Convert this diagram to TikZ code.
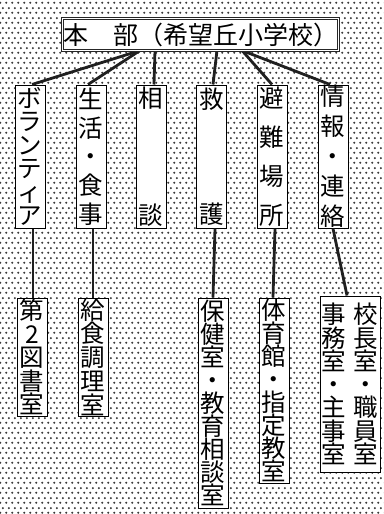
\documentclass[tikz,border=0pt]{standalone}
\usepackage{fontspec}
\setmainfont{Noto Sans CJK JP}
\usetikzlibrary{patterns,calc}
\pgfdeclarepatternformonly{halftone}{\pgfpointorigin}{\pgfpoint{6pt}{10pt}}{\pgfpoint{6pt}{10pt}}{%
  \pgfpathcircle{\pgfpoint{1.5pt}{2.5pt}}{1.25pt}%
  \pgfpathcircle{\pgfpoint{4.5pt}{7.5pt}}{1.25pt}%
  \pgfusepath{fill}}
\definecolor{dotgray}{HTML}{383838}
\definecolor{linegray}{HTML}{202020}
\tikzset{
  vbox/.style={draw=black, line width=1pt, fill=white, minimum width=30pt,
    inner sep=0pt, align=center, text width=30pt},
  topbox/.style={draw=black!85, line width=0.8pt, double=white, double distance=1.2pt,
    fill=white, minimum width=276pt, minimum height=32pt, inner sep=0pt,
    font=\fontsize{25}{25}\selectfont},
  link/.style={draw=linegray, line width=2.8pt},
}
\begin{document}
\begin{tikzpicture}[x=1pt,y=-1pt]
\useasboundingbox (0,0) rectangle (383,514);
\fill[white] (0,0) rectangle (383,514);
\fill[pattern=halftone, pattern color=dotgray] (0,0) rectangle (383,514);

% hubs on the top box (bottom edge at y = 50.5)
\coordinate (h1) at (140,50.5);
\coordinate (h2) at (155,50.5);
\coordinate (h3) at (217,50.5);
\coordinate (h4) at (242,50.5);

% level 2
\node[vbox, minimum height=143pt, font=\fontsize{24.5}{23.4}\selectfont] (vol) at (30,156.5) {ボ\\ラ\\ン\\テ\\ィ\\ア};
\node[vbox, minimum height=143pt, font=\fontsize{24.5}{28.75}\selectfont] (sei) at (91,156.5) {生\\活\\・\\食\\事};
\node[vbox, minimum height=143pt, font=\fontsize{24.5}{24}\selectfont] (sou) at (151,156.5) {相\\[93pt]談};
\node[vbox, minimum height=143pt, font=\fontsize{24.5}{24}\selectfont] (kyu) at (211.5,156.5) {救\\[91pt]護};
\node[vbox, minimum height=143pt, font=\fontsize{24.5}{39}\selectfont] (hin) at (272,156.5) {避\\難\\場\\所};
\node[vbox, minimum height=143pt, font=\fontsize{24.5}{30}\selectfont] (jou) at (333,156.5) {情\\報\\・\\連\\絡};

% level 3
\node[vbox, minimum height=118pt, font=\fontsize{24.5}{23.5}\selectfont] (lib) at (32,357) {第\\2\\図\\書\\室};
\node[vbox, minimum height=118pt, font=\fontsize{24.5}{23.75}\selectfont] (kit) at (93,357) {給\\食\\調\\理\\室};
\node[vbox, minimum height=210pt, font=\fontsize{24.5}{23}\selectfont] (hok) at (213,403) {保\\健\\室\\・\\教\\育\\相\\談\\室};
\node[vbox, minimum height=185pt, font=\fontsize{24.5}{23}\selectfont] (tai) at (274,390.5) {体\\育\\館\\・\\指\\定\\教\\室};
\node[vbox, minimum width=60pt, text width=60pt, minimum height=176pt, font=\fontsize{24.5}{23.3}\selectfont] (kou) at (350,384)
  {事\hspace{8pt}校\\務\hspace{8pt}長\\室\hspace{8pt}室\\・\hspace{8pt}・\\主\hspace{8pt}職\\事\hspace{8pt}員\\室\hspace{8pt}室};

% connectors top -> level 2
\draw[link] (h1) -- ([xshift=2pt]vol.north);
\draw[link] (h1) -- ([xshift=-3pt]sei.north);
\draw[link] (h2) -- ([xshift=3pt]sou.north);
\draw[link] (h3) -- ([xshift=1.5pt]kyu.north);
\draw[link] (h4) -- (hin.north);
\draw[link] (h4) -- ([xshift=-3pt]jou.north);

% connectors level 2 -> level 3
\draw[link] ([xshift=3pt]vol.south) -- ([xshift=1pt]lib.north);
\draw[link] ([xshift=2pt]sei.south) -- (kit.north);
\draw[link] ([xshift=3.5pt]kyu.south) -- (hok.north);
\draw[link] ([xshift=3pt]hin.south) -- ([xshift=-1pt]tai.north);
\draw[link] (jou.south) -- ([xshift=-3pt]kou.north);

% top node drawn last so the connectors start under its frame
\node[topbox] (hq) at (200.5,34.5) {本　部（希望丘小学校）};
\end{tikzpicture}
\end{document}
